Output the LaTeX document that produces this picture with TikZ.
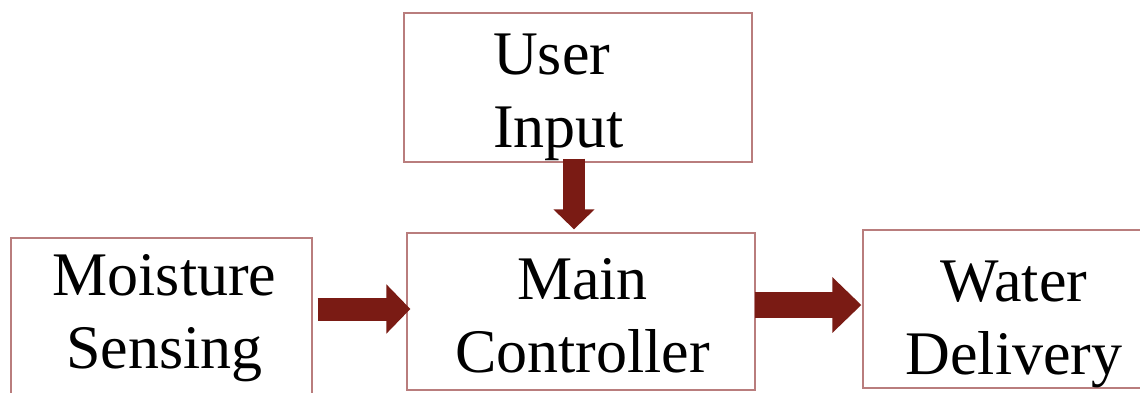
\documentclass[tikz,border=0pt]{standalone}
\usepackage{fontspec}
\setmainfont{Liberation Serif}
\usetikzlibrary{arrows.meta}
\definecolor{boxline}{RGB}{185,125,125}
\definecolor{arrowred}{RGB}{122,27,20}
\begin{document}
\begin{tikzpicture}[x=1pt,y=-1pt,
  boxnode/.style={draw=boxline, line width=1.3pt, inner sep=0pt, rectangle},
  lbl/.style={inner sep=0pt, font=\fontsize{62}{73}\selectfont},
  blockarrow/.style={draw=arrowred, line width=#1}
]
\useasboundingbox (0,0) rectangle (1140,393);
\clip (0,0) rectangle (1140,393);
% boxes
\node[boxnode, minimum width=301pt, minimum height=161pt] (ms) at (161.5,318.5) {};
\node[boxnode, minimum width=348pt, minimum height=149pt] (ui) at (578,87.5) {};
\node[boxnode, minimum width=348pt, minimum height=157pt] (mc) at (581,311.5) {};
\node[boxnode, minimum width=302pt, minimum height=158pt] (wd) at (1014,309) {};
% texts
\node[lbl, anchor=north, align=center] (mstext) at (164.5,254) {Moisture\\Sensing};
\node[lbl, anchor=north west, align=left] (uitext) at (493,34) {User\\Input};
\node[lbl, anchor=north, align=center] (mctext) at (582.5,258) {Main\\Controller};
\node[lbl, anchor=north, align=center] (wdtext) at (1014,261) {Water\\Delivery};
% arrows
\draw[blockarrow=23pt, -{Triangle[length=24pt,width=48pt]}]
  ([xshift=5pt,yshift=9.5pt]ms.east) -- ([xshift=4pt,yshift=2.5pt]mc.west);
\draw[blockarrow=26pt, -{Triangle[length=29pt,width=54pt]}]
  ([xshift=-1pt,yshift=6.5pt]mc.east) -- ([xshift=-1pt,yshift=4pt]wd.west);
\draw[blockarrow=22pt, -{Triangle[length=20pt,width=40pt]}]
  ([xshift=-4pt,yshift=4pt]ui.south) -- ([xshift=-7pt,yshift=3pt]mc.north);
\end{tikzpicture}
\end{document}
